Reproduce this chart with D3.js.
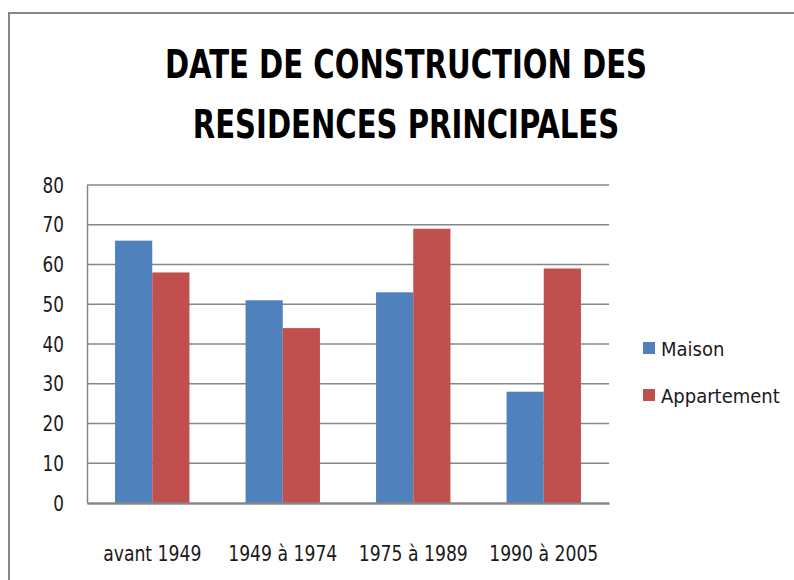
<!DOCTYPE html>
<html>
<head>
<meta charset="utf-8">
<script src="https://cdn.jsdelivr.net/npm/d3@7"></script>
<style>
  html, body { margin: 0; padding: 0; background: #fff; }
  svg { display: block; }
  text { font-family: "Liberation Sans Narrow", "DejaVu Sans Condensed", "Liberation Sans", sans-serif; }
</style>
</head>
<body>
<svg id="chart" width="794" height="580"></svg>
<script>
// Période de construction
const categories = ["avant 1949", "1949 à 1974", "1975 à 1989", "1990 à 2005"];
// Séries
const seriesNames = ["Maison", "Appartement"];
const maison = [66, 51, 53, 28];
const appartement = [58, 44, 69, 59];
const yTicks = [0, 10, 20, 30, 40, 50, 60, 70, 80];
const titleLines = ["DATE DE CONSTRUCTION DES", "RESIDENCES PRINCIPALES"];

const colors = { Maison: "#4F81BD", Appartement: "#C0504D" };
const rows = categories.map((c, i) => ({ cat: c, Maison: maison[i], Appartement: appartement[i] }));

const svg = d3.select("#chart");
const W = 794, H = 580;
const plot = { left: 87, right: 609, top: 185, bottom: 503 };

// Resserre horizontalement un texte (police étroite type Calibri)
function condense(sel, k) {
  sel.each(function () {
    const len = this.getComputedTextLength();
    d3.select(this).attr("textLength", len * k).attr("lengthAdjust", "spacingAndGlyphs");
  });
}

// Cadre du graphique
svg.append("rect")
  .attr("x", 9).attr("y", 13).attr("width", W + 20).attr("height", H + 20)
  .attr("fill", "#fff").attr("stroke", "#868686").attr("stroke-width", 2);

// Titre
svg.append("g").selectAll("text").data(titleLines).join("text")
  .attr("x", 406).attr("y", (d, i) => 78 + i * 60)
  .attr("text-anchor", "middle")
  .attr("font-size", 39).attr("font-weight", "bold").attr("fill", "#000")
  .text(d => d)
  .call(condense, 0.83);

const x0 = d3.scaleBand().domain(categories).range([plot.left, plot.right])
  .paddingInner(0.43).paddingOuter(0.215);
const x1 = d3.scaleBand().domain(seriesNames).range([0, x0.bandwidth()]);
const y = d3.scaleLinear().domain([0, 80]).range([plot.bottom, plot.top]);

// Quadrillage horizontal
svg.append("g").selectAll("line").data(yTicks.filter(t => t > 0)).join("line")
  .attr("x1", plot.left).attr("x2", plot.right)
  .attr("y1", d => y(d)).attr("y2", d => y(d))
  .attr("stroke", "#868686").attr("stroke-width", 1.5);

// Axe vertical
const yAxis = svg.append("g").attr("transform", `translate(${plot.left},0)`)
  .call(d3.axisLeft(y).tickValues(yTicks).tickSize(0).tickPadding(23));
yAxis.select(".domain").attr("stroke", "#868686").attr("stroke-width", 1.5);
yAxis.selectAll("text").attr("font-size", 22).attr("fill", "#1a1a1a")
  .attr("font-family", null)
  .call(condense, 0.85);

// Barres
const groups = svg.append("g").selectAll("g").data(rows).join("g")
  .attr("transform", d => `translate(${x0(d.cat)},0)`);
groups.selectAll("rect").data(d => seriesNames.map(k => ({ key: k, value: d[k] }))).join("rect")
  .attr("x", d => x1(d.key))
  .attr("y", d => y(d.value))
  .attr("width", x1.bandwidth())
  .attr("height", d => y(0) - y(d.value))
  .attr("fill", d => colors[d.key]);

// Axe horizontal
const xAxis = svg.append("g").attr("transform", `translate(0,${plot.bottom})`)
  .call(d3.axisBottom(x0).tickSize(0).tickPadding(42));
xAxis.select(".domain").attr("stroke", "#868686").attr("stroke-width", 2.5);
xAxis.selectAll("text").attr("font-size", 22).attr("fill", "#1a1a1a")
  .attr("font-family", null)
  .call(condense, 0.87);

// Légende
const legend = svg.append("g").selectAll("g").data(seriesNames).join("g")
  .attr("transform", (d, i) => `translate(643,${342 + i * 47})`);
legend.append("rect").attr("width", 12).attr("height", 12).attr("fill", d => colors[d]);
legend.append("text").attr("x", 18).attr("y", 14)
  .attr("font-size", 20).attr("fill", "#1a1a1a").text(d => d);
</script>
</body>
</html>
